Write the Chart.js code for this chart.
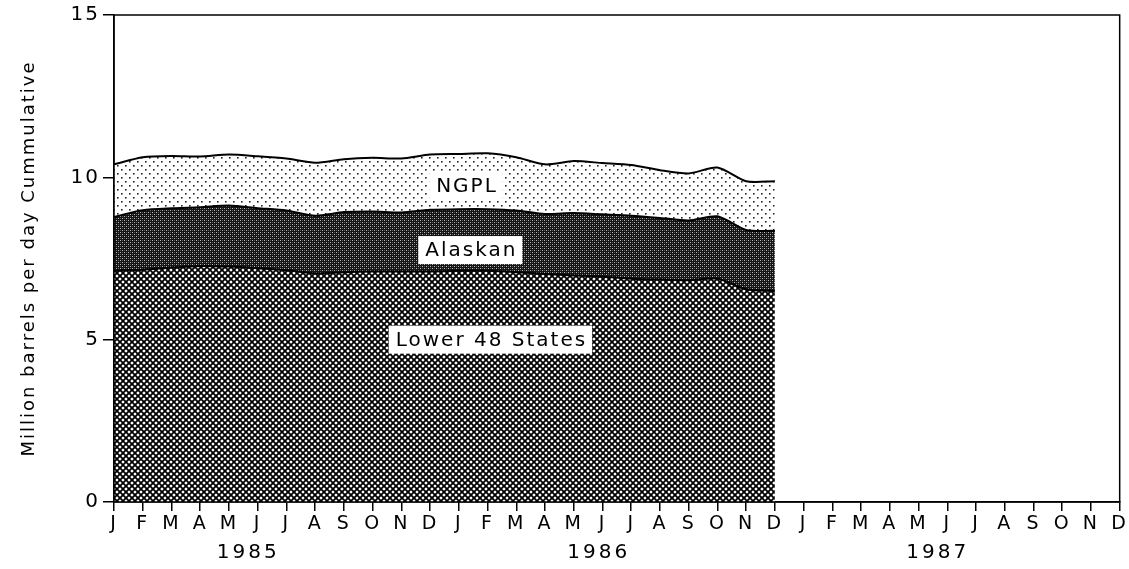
<!DOCTYPE html>
<html>
<head>
<meta charset="utf-8">
<script src="https://cdn.jsdelivr.net/npm/chart.js@4/dist/chart.umd.min.js"></script>
<style>
  html, body { margin: 0; padding: 0; background: #fff; }
  #wrap { width: 1129px; height: 569px; }
</style>
</head>
<body>
<div id="wrap"><canvas id="c" width="1129" height="569"></canvas></div>
<script>
// ---- data ----
const months = ['J','F','M','A','M','J','J','A','S','O','N','D',
                'J','F','M','A','M','J','J','A','S','O','N','D',
                'J','F','M','A','M','J','J','A','S','O','N','D'];
const years = ['1985', '1986', '1987'];
const yTicks = [0, 5, 10, 15];
// million barrels per day, Jan 1985 - Dec 1986 (1987 empty)
const lower48 = [7.12, 7.15, 7.22, 7.27, 7.25, 7.20, 7.14, 7.04, 7.08, 7.10, 7.10, 7.10,
                 7.12, 7.12, 7.08, 7.02, 6.98, 6.94, 6.88, 6.85, 6.83, 6.88, 6.55, 6.50];
const alaskan = [1.66, 1.84, 1.83, 1.81, 1.88, 1.85, 1.84, 1.78, 1.85, 1.85, 1.82, 1.90,
                 1.90, 1.90, 1.90, 1.85, 1.92, 1.92, 1.94, 1.90, 1.84, 1.92, 1.83, 1.85];
const ngpl    = [1.62, 1.63, 1.61, 1.56, 1.57, 1.60, 1.60, 1.63, 1.63, 1.65, 1.66, 1.70,
                 1.70, 1.72, 1.64, 1.53, 1.60, 1.58, 1.56, 1.47, 1.45, 1.50, 1.50, 1.53];
const seriesNames = ['Lower 48 States', 'Alaskan', 'NGPL'];

function pad(arr) { return arr.concat(new Array(months.length - arr.length).fill(null)); }

// ---- patterns ----
const canvas = document.getElementById('c');
const ctx0 = canvas.getContext('2d');
function makePattern(w, h, draw) {
  const t = document.createElement('canvas');
  t.width = w; t.height = h;
  const g = t.getContext('2d');
  draw(g, w, h);
  return ctx0.createPattern(t, 'repeat');
}
const crossHatch = makePattern(6, 6, (g, w, h) => {
  g.fillStyle = '#fff'; g.fillRect(0, 0, w, h);
  g.strokeStyle = '#000'; g.lineWidth = 1.8;
  g.beginPath();
  g.moveTo(-1, -1); g.lineTo(w + 1, h + 1);
  g.moveTo(w + 1, -1); g.lineTo(-1, h + 1);
  g.stroke();
});
const darkDither = makePattern(4, 4, (g, w, h) => {
  g.fillStyle = '#141414'; g.fillRect(0, 0, w, h);
  g.fillStyle = '#bdbdbd'; g.fillRect(0, 0, 1, 1); g.fillRect(2, 2, 1, 1);
  g.fillStyle = '#5a5a5a'; g.fillRect(2, 0, 1, 1); g.fillRect(0, 2, 1, 1);
});
const dots = makePattern(8, 8, (g, w, h) => {
  g.fillStyle = '#fff'; g.fillRect(0, 0, w, h);
  g.fillStyle = '#222';
  g.fillRect(1, 1, 1.6, 1.6); g.fillRect(5, 5, 1.6, 1.6);
});

const FONT = '"DejaVu Sans", sans-serif';

// ---- plugins ----
const spacingPlugin = {
  id: 'spacing',
  beforeDraw(chart) { chart.ctx.letterSpacing = '2px'; }
};

const framePlugin = {
  id: 'frame',
  afterDatasetsDraw(chart) {
    const { ctx, chartArea: a } = chart;
    ctx.save();
    ctx.strokeStyle = '#000'; ctx.lineWidth = 1.5;
    ctx.strokeRect(a.left, a.top, a.right - a.left, a.bottom - a.top);
    ctx.restore();
  }
};

const labelPlugin = {
  id: 'areaLabels',
  afterDatasetsDraw(chart) {
    const { ctx } = chart;
    const xs = chart.scales.x, ys = chart.scales.y;
    const items = [
      { text: 'NGPL', i: 12.25, v: 9.75 },
      { text: 'Alaskan', i: 12.4, v: 7.76 },
      { text: 'Lower 48 States', i: 13.1, v: 5.0 }
    ];
    ctx.save();
    ctx.letterSpacing = '2px';
    ctx.font = '20px ' + FONT;
    ctx.textAlign = 'center';
    ctx.textBaseline = 'middle';
    items.forEach(it => {
      const x = xs.getPixelForValue(it.i), y = ys.getPixelForValue(it.v);
      const w = ctx.measureText(it.text).width;
      ctx.fillStyle = '#fff';
      ctx.fillRect(x - w / 2 - 6, y - 14, w + 12, 28);
      ctx.fillStyle = '#000';
      ctx.fillText(it.text, x + 1, y + 1);
    });
    ctx.restore();
  }
};

const yearPlugin = {
  id: 'years',
  afterDraw(chart) {
    const { ctx } = chart;
    const xs = chart.scales.x;
    const centers = [4.6, 16.8, 28.6];
    ctx.save();
    ctx.letterSpacing = '3px';
    ctx.font = '20px ' + FONT;
    ctx.fillStyle = '#000';
    ctx.textAlign = 'center';
    ctx.textBaseline = 'middle';
    years.forEach((y, k) => ctx.fillText(y, xs.getPixelForValue(centers[k]) + 2, 553));
    ctx.restore();
  }
};

new Chart(canvas, {
  type: 'line',
  data: {
    labels: months,
    datasets: [
      { label: seriesNames[0], data: pad(lower48), fill: 'origin', backgroundColor: crossHatch,
        borderColor: '#000', borderWidth: 2, pointRadius: 0, tension: 0.25 },
      { label: seriesNames[1], data: pad(alaskan), fill: '-1', backgroundColor: darkDither,
        borderColor: '#000', borderWidth: 2, pointRadius: 0, tension: 0.25 },
      { label: seriesNames[2], data: pad(ngpl), fill: '-1', backgroundColor: dots,
        borderColor: '#000', borderWidth: 2, pointRadius: 0, tension: 0.25 }
    ]
  },
  options: {
    responsive: false,
    animation: false,
    devicePixelRatio: 1,
    layout: { padding: { top: 15, right: 9, left: 19, bottom: 0 } },
    plugins: { legend: { display: false }, tooltip: { enabled: false }, title: { display: false } },
    scales: {
      x: {
        type: 'category',
        offset: false,
        grid: { display: true, drawOnChartArea: false, drawTicks: true, tickLength: 9, color: '#000', lineWidth: 1.5 },
        border: { display: true, color: '#000', width: 1.5 },
        ticks: { autoSkip: false, maxRotation: 0, minRotation: 0, color: '#000', padding: 2,
                 font: { family: FONT, size: 19 } },
        afterFit(s) { s.height = 67; }
      },
      y: {
        stacked: true,
        min: 0, max: 15,
        afterBuildTicks(s) { s.ticks = yTicks.map(v => ({ value: v })); },
        grid: { display: true, drawOnChartArea: false, drawTicks: true, tickLength: 11, color: '#000', lineWidth: 1.5 },
        border: { display: true, color: '#000', width: 1.5 },
        ticks: { color: '#000', padding: 3, font: { family: FONT, size: 20 } },
        title: { display: true, text: 'Million barrels per day Cummulative', color: '#000',
                 font: { family: FONT, size: 18 }, padding: { top: 0, bottom: 10 } },
        afterFit(s) { s.width = 95; }
      }
    }
  },
  plugins: [spacingPlugin, framePlugin, labelPlugin, yearPlugin]
});
</script>
</body>
</html>
